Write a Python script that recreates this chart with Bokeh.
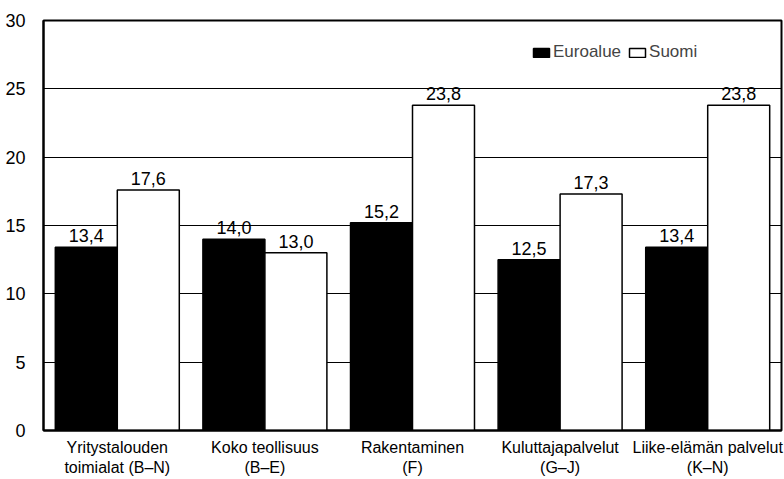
import numpy as np
from bokeh.plotting import figure
from bokeh.models import ColumnDataSource, FixedTicker, Legend, LegendItem, Range1d
from bokeh.core.properties import value
from bokeh.embed import file_html
from bokeh.resources import INLINE

categories = ["Yritystalouden\ntoimialat (B–N)", "Koko teollisuus\n(B–E)", "Rakentaminen\n(F)",
              "Kuluttajapalvelut\n(G–J)", "Liike-elämän palvelut\n(K–N)"]
euroalue = [13.4, 14.0, 15.2, 12.5, 13.4]
suomi = [17.6, 13.0, 23.8, 17.3, 23.8]
y_ticks = [0, 5, 10, 15, 20, 25, 30]

FONT = "Liberation Sans"

def fmt(v):
    return f"{v:.1f}".replace(".", ",")

x = np.arange(len(categories))
src_e = ColumnDataSource(dict(x=x - 0.21, top=euroalue, lab=[fmt(v) for v in euroalue]))
src_s = ColumnDataSource(dict(x=x + 0.21, top=suomi, lab=[fmt(v) for v in suomi]))

p = figure(width=784, height=479, output_backend="svg", toolbar_location=None,
           x_range=Range1d(-0.5, len(categories) - 0.5), y_range=Range1d(0, 30),
           min_border_left=43, min_border_right=3, min_border_top=20, min_border_bottom=49)

p.outline_line_color = "black"
p.outline_line_width = 2

p.ygrid.grid_line_color = "black"
p.ygrid.grid_line_width = 1
p.ygrid.grid_line_alpha = 1
p.xgrid.grid_line_color = None

p.yaxis.ticker = FixedTicker(ticks=y_ticks)
p.yaxis.axis_line_width = 2
p.yaxis.major_tick_line_color = None
p.yaxis.minor_tick_line_color = None
p.yaxis.major_label_text_font = FONT
p.yaxis.major_label_text_font_size = "18px"
p.yaxis.major_label_text_color = "black"
p.yaxis.major_label_standoff = 12

p.xaxis.ticker = FixedTicker(ticks=list(x))
p.xaxis.major_label_overrides = {int(i): c for i, c in zip(x, categories)}
p.xaxis.axis_line_width = 2
p.xaxis.major_tick_line_color = None
p.xaxis.minor_tick_line_color = None
p.xaxis.major_label_text_font = FONT
p.xaxis.major_label_text_font_size = "16px"
p.xaxis.major_label_text_color = "black"
p.xaxis.major_label_standoff = 2

r_e = p.vbar(x="x", top="top", width=0.42, source=src_e, fill_color="black", line_color="black", line_width=1.5)
r_s = p.vbar(x="x", top="top", width=0.42, source=src_s, fill_color="white", line_color="black", line_width=1.5)

for src in (src_e, src_s):
    p.text(x="x", y="top", text="lab", source=src, text_align="center", text_baseline="bottom",
           y_offset=-5, text_font=value(FONT), text_font_size="18px", text_color="black")

legend = Legend(items=[LegendItem(label="Euroalue", renderers=[r_e]),
                       LegendItem(label="Suomi", renderers=[r_s])],
                location=(488, 368), orientation="horizontal",
                background_fill_alpha=0, border_line_color=None,
                label_text_font=FONT, label_text_font_size="17px",
                glyph_width=20, glyph_height=11, label_standoff=2, spacing=6,
                padding=0, margin=0, label_height=20)
p.add_layout(legend, "center")

open("out.html", "w").write(file_html(p, INLINE))
